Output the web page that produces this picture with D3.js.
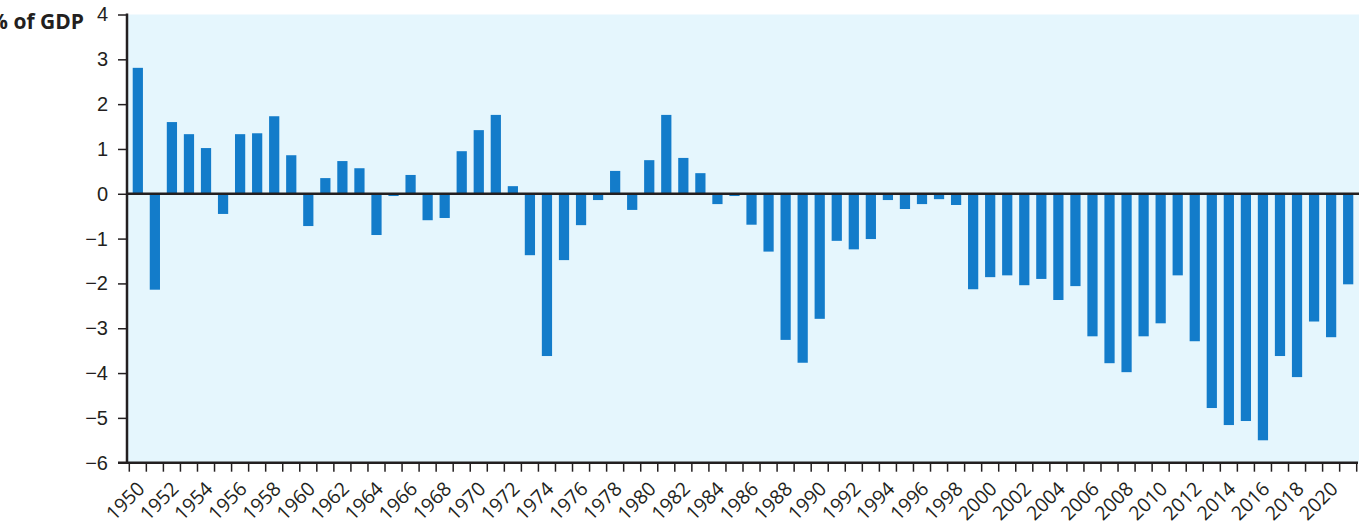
<!DOCTYPE html>
<html>
<head>
<meta charset="utf-8">
<script src="https://cdn.jsdelivr.net/npm/d3@7"></script>
<style>
  body { margin: 0; background: #fff; }
  svg { display: block; font-family: "Open Sans", sans-serif; }
</style>
</head>
<body>
<div class="chart"></div>
<script>
// budget balance, % of GDP, one value per year
const years = d3.range(1950, 2022);
const values = [
  2.81, -2.14, 1.60, 1.33, 1.02, -0.45, 1.33, 1.35, 1.73, 0.86,
  -0.72, 0.35, 0.73, 0.57, -0.92, -0.05, 0.42, -0.59, -0.54, 0.95,
  1.42, 1.76, 0.17, -1.37, -3.62, -1.48, -0.70, -0.14, 0.51, -0.36,
  0.75, 1.76, 0.80, 0.46, -0.23, -0.05, -0.69, -1.29, -3.26, -3.77,
  -2.79, -1.05, -1.24, -1.01, -0.14, -0.34, -0.23, -0.12, -0.25, -2.13,
  -1.86, -1.82, -2.04, -1.90, -2.37, -2.06, -3.18, -3.78, -3.98, -3.18,
  -2.89, -1.82, -3.29, -4.78, -5.16, -5.07, -5.50, -3.62, -4.09, -2.85,
  -3.20, -2.02
];
const yTicks = [4, 3, 2, 1, 0, -1, -2, -3, -4, -5, -6];
const xLabels = years.filter(y => y % 2 === 0);
const yTitle = "% of GDP";

const width = 1371, height = 527;
const plotLeft = 127, plotRight = 1359, plotTop = 14.5, plotBottom = 462.7;
const dark = "#231f20";

const data = years.map((y, i) => ({ year: y, value: values[i] }));

const svg = d3.select(".chart").append("svg")
    .attr("width", width)
    .attr("height", height);

const x = d3.scaleBand()
    .domain(years)
    .range([129.3, 1356.7])
    .paddingInner(0.4)
    .paddingOuter(0.2);

const y = d3.scaleLinear()
    .domain([-6, 4])
    .range([plotBottom, plotTop]);

// plot background
svg.append("rect")
    .attr("x", plotLeft)
    .attr("y", plotTop)
    .attr("width", plotRight - plotLeft)
    .attr("height", plotBottom - plotTop)
    .attr("fill", "#e5f6fd");

// bars
svg.selectAll("rect.bar")
    .data(data)
    .enter().append("rect")
    .attr("class", "bar")
    .attr("x", d => x(d.year))
    .attr("width", x.bandwidth())
    .attr("y", d => y(Math.max(0, d.value)))
    .attr("height", d => Math.abs(y(d.value) - y(0)))
    .attr("fill", "#137cca");

// zero line
svg.append("line")
    .attr("x1", plotLeft)
    .attr("x2", plotRight)
    .attr("y1", y(0))
    .attr("y2", y(0))
    .attr("stroke", dark)
    .attr("stroke-width", 2.5);

// y axis
const yAxis = svg.append("g")
    .attr("transform", "translate(" + plotLeft + ",0)")
    .call(d3.axisLeft(y).tickValues(yTicks).tickSize(9).tickPadding(10));
yAxis.select(".domain").remove();
yAxis.selectAll(".tick line").attr("stroke", dark).attr("stroke-width", 1.5);
yAxis.selectAll(".tick text")
    .attr("fill", dark)
    .style("font-size", "20px");

svg.append("line")
    .attr("x1", plotLeft)
    .attr("x2", plotLeft)
    .attr("y1", plotTop - 1)
    .attr("y2", plotBottom + 1)
    .attr("stroke", dark)
    .attr("stroke-width", 2.5);

// x axis: ticks between bars, labels every second year
const step = x.step();
const boundaries = years.map(yr => x(yr) - step * x.paddingInner() / 2);
boundaries.push(x(years[years.length - 1]) + x.bandwidth() + step * x.paddingInner() / 2);

svg.append("line")
    .attr("x1", 118)
    .attr("x2", 1358)
    .attr("y1", plotBottom)
    .attr("y2", plotBottom)
    .attr("stroke", dark)
    .attr("stroke-width", 2.5);

svg.selectAll("line.xtick")
    .data(boundaries)
    .enter().append("line")
    .attr("class", "xtick")
    .attr("x1", d => d)
    .attr("x2", d => d)
    .attr("y1", plotBottom)
    .attr("y2", plotBottom + 9)
    .attr("stroke", dark)
    .attr("stroke-width", 1.5);

svg.selectAll("text.xlabel")
    .data(xLabels)
    .enter().append("text")
    .attr("class", "xlabel")
    .attr("transform", d => "translate(" + (x(d) + x.bandwidth() / 2 + 8) + "," + 490 + ") rotate(-45)")
    .attr("text-anchor", "end")
    .attr("fill", dark)
    .style("font-size", "19.5px")
    .text(d => d);

// axis title
svg.append("text")
    .attr("x", 84)
    .attr("y", 29)
    .attr("text-anchor", "end")
    .attr("fill", dark)
    .style("font-size", "21px")
    .style("font-weight", "bold")
    .text(yTitle);
</script>
</body>
</html>
